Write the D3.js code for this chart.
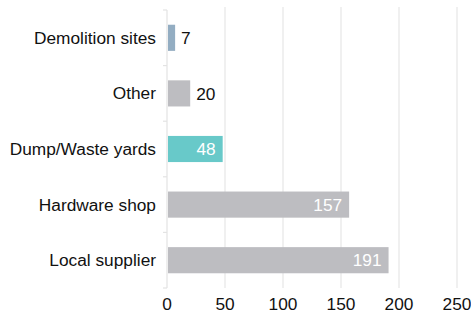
<!DOCTYPE html>
<html>
<head>
<meta charset="utf-8">
<script src="https://cdn.jsdelivr.net/npm/d3@7"></script>
<style>
  html, body { margin: 0; padding: 0; background: #fff; }
  svg { display: block; font-family: "Helvetica Neue", Helvetica, "Liberation Sans", Arial, sans-serif; }
</style>
</head>
<body>
<div id="chart"></div>
<script>
// Where materials are sourced from (number of responses)
const categories = ["Demolition sites", "Other", "Dump/Waste yards", "Hardware shop", "Local supplier"];
const counts = [7, 20, 48, 157, 191];
const barColors = ["#93adc2", "#bdbdc1", "#68c9c9", "#bdbdc1", "#bdbdc1"];
const xTicks = [0, 50, 100, 150, 200, 250];

const W = 471, H = 323;
const margin = { top: 10, right: 15, bottom: 35, left: 167 };
const fontSize = 17.3;

const svg = d3.select("#chart").append("svg")
  .attr("width", W).attr("height", H);

const x = d3.scaleLinear().domain([0, 250]).range([margin.left, margin.left + 290]);
const y = d3.scaleBand().domain(categories)
  .range([margin.top, H - margin.bottom]).paddingInner(0.53).paddingOuter(0.265);

// vertical gridlines
svg.append("g").selectAll("line").data(xTicks.slice(1)).join("line")
  .attr("x1", d => x(d)).attr("x2", d => x(d))
  .attr("y1", margin.top - 3).attr("y2", H - margin.bottom)
  .attr("stroke", "#e6e6e6").attr("stroke-width", 1.2);

// category axis: light line with ticks at band boundaries
const bounds = categories.map(c => y(c) - y.step() * y.paddingInner() / 2);
bounds.push(H - margin.bottom);
const yAxis = svg.append("g");
yAxis.append("line")
  .attr("x1", x(0)).attr("x2", x(0))
  .attr("y1", margin.top).attr("y2", H - margin.bottom)
  .attr("stroke", "#e3e3e3").attr("stroke-width", 1.2);
yAxis.selectAll("line.tick").data(bounds).join("line").attr("class", "tick")
  .attr("x1", x(0) - 4).attr("x2", x(0))
  .attr("y1", d => d).attr("y2", d => d)
  .attr("stroke", "#e3e3e3").attr("stroke-width", 1.2);

// category labels
svg.append("g").selectAll("text").data(categories).join("text")
  .attr("x", x(0) - 11)
  .attr("y", d => y(d) + y.bandwidth() / 2)
  .attr("dy", "0.35em")
  .attr("text-anchor", "end")
  .attr("font-size", fontSize)
  .attr("fill", "#111")
  .text(d => d);

// bars
svg.append("g").selectAll("rect").data(categories).join("rect")
  .attr("x", x(0) + 1)
  .attr("y", d => y(d))
  .attr("width", (d, i) => x(counts[i]) - x(0) - 1)
  .attr("height", y.bandwidth())
  .attr("fill", (d, i) => barColors[i]);

// value labels: inside (white) for long bars, outside (dark) for short ones
svg.append("g").selectAll("text").data(categories).join("text")
  .attr("x", (d, i) => counts[i] >= 40 ? x(counts[i]) - 7 : x(counts[i]) + 6)
  .attr("y", d => y(d) + y.bandwidth() / 2)
  .attr("dy", "0.36em")
  .attr("text-anchor", (d, i) => counts[i] >= 40 ? "end" : "start")
  .attr("font-size", fontSize)
  .attr("fill", (d, i) => counts[i] >= 40 ? "#ffffff" : "#111")
  .text((d, i) => counts[i]);

// value axis labels
svg.append("g").selectAll("text").data(xTicks).join("text")
  .attr("x", d => x(d))
  .attr("y", 304)
  .attr("dy", "0.35em")
  .attr("text-anchor", "middle")
  .attr("font-size", fontSize)
  .attr("fill", "#111")
  .text(d => d);
</script>
</body>
</html>
